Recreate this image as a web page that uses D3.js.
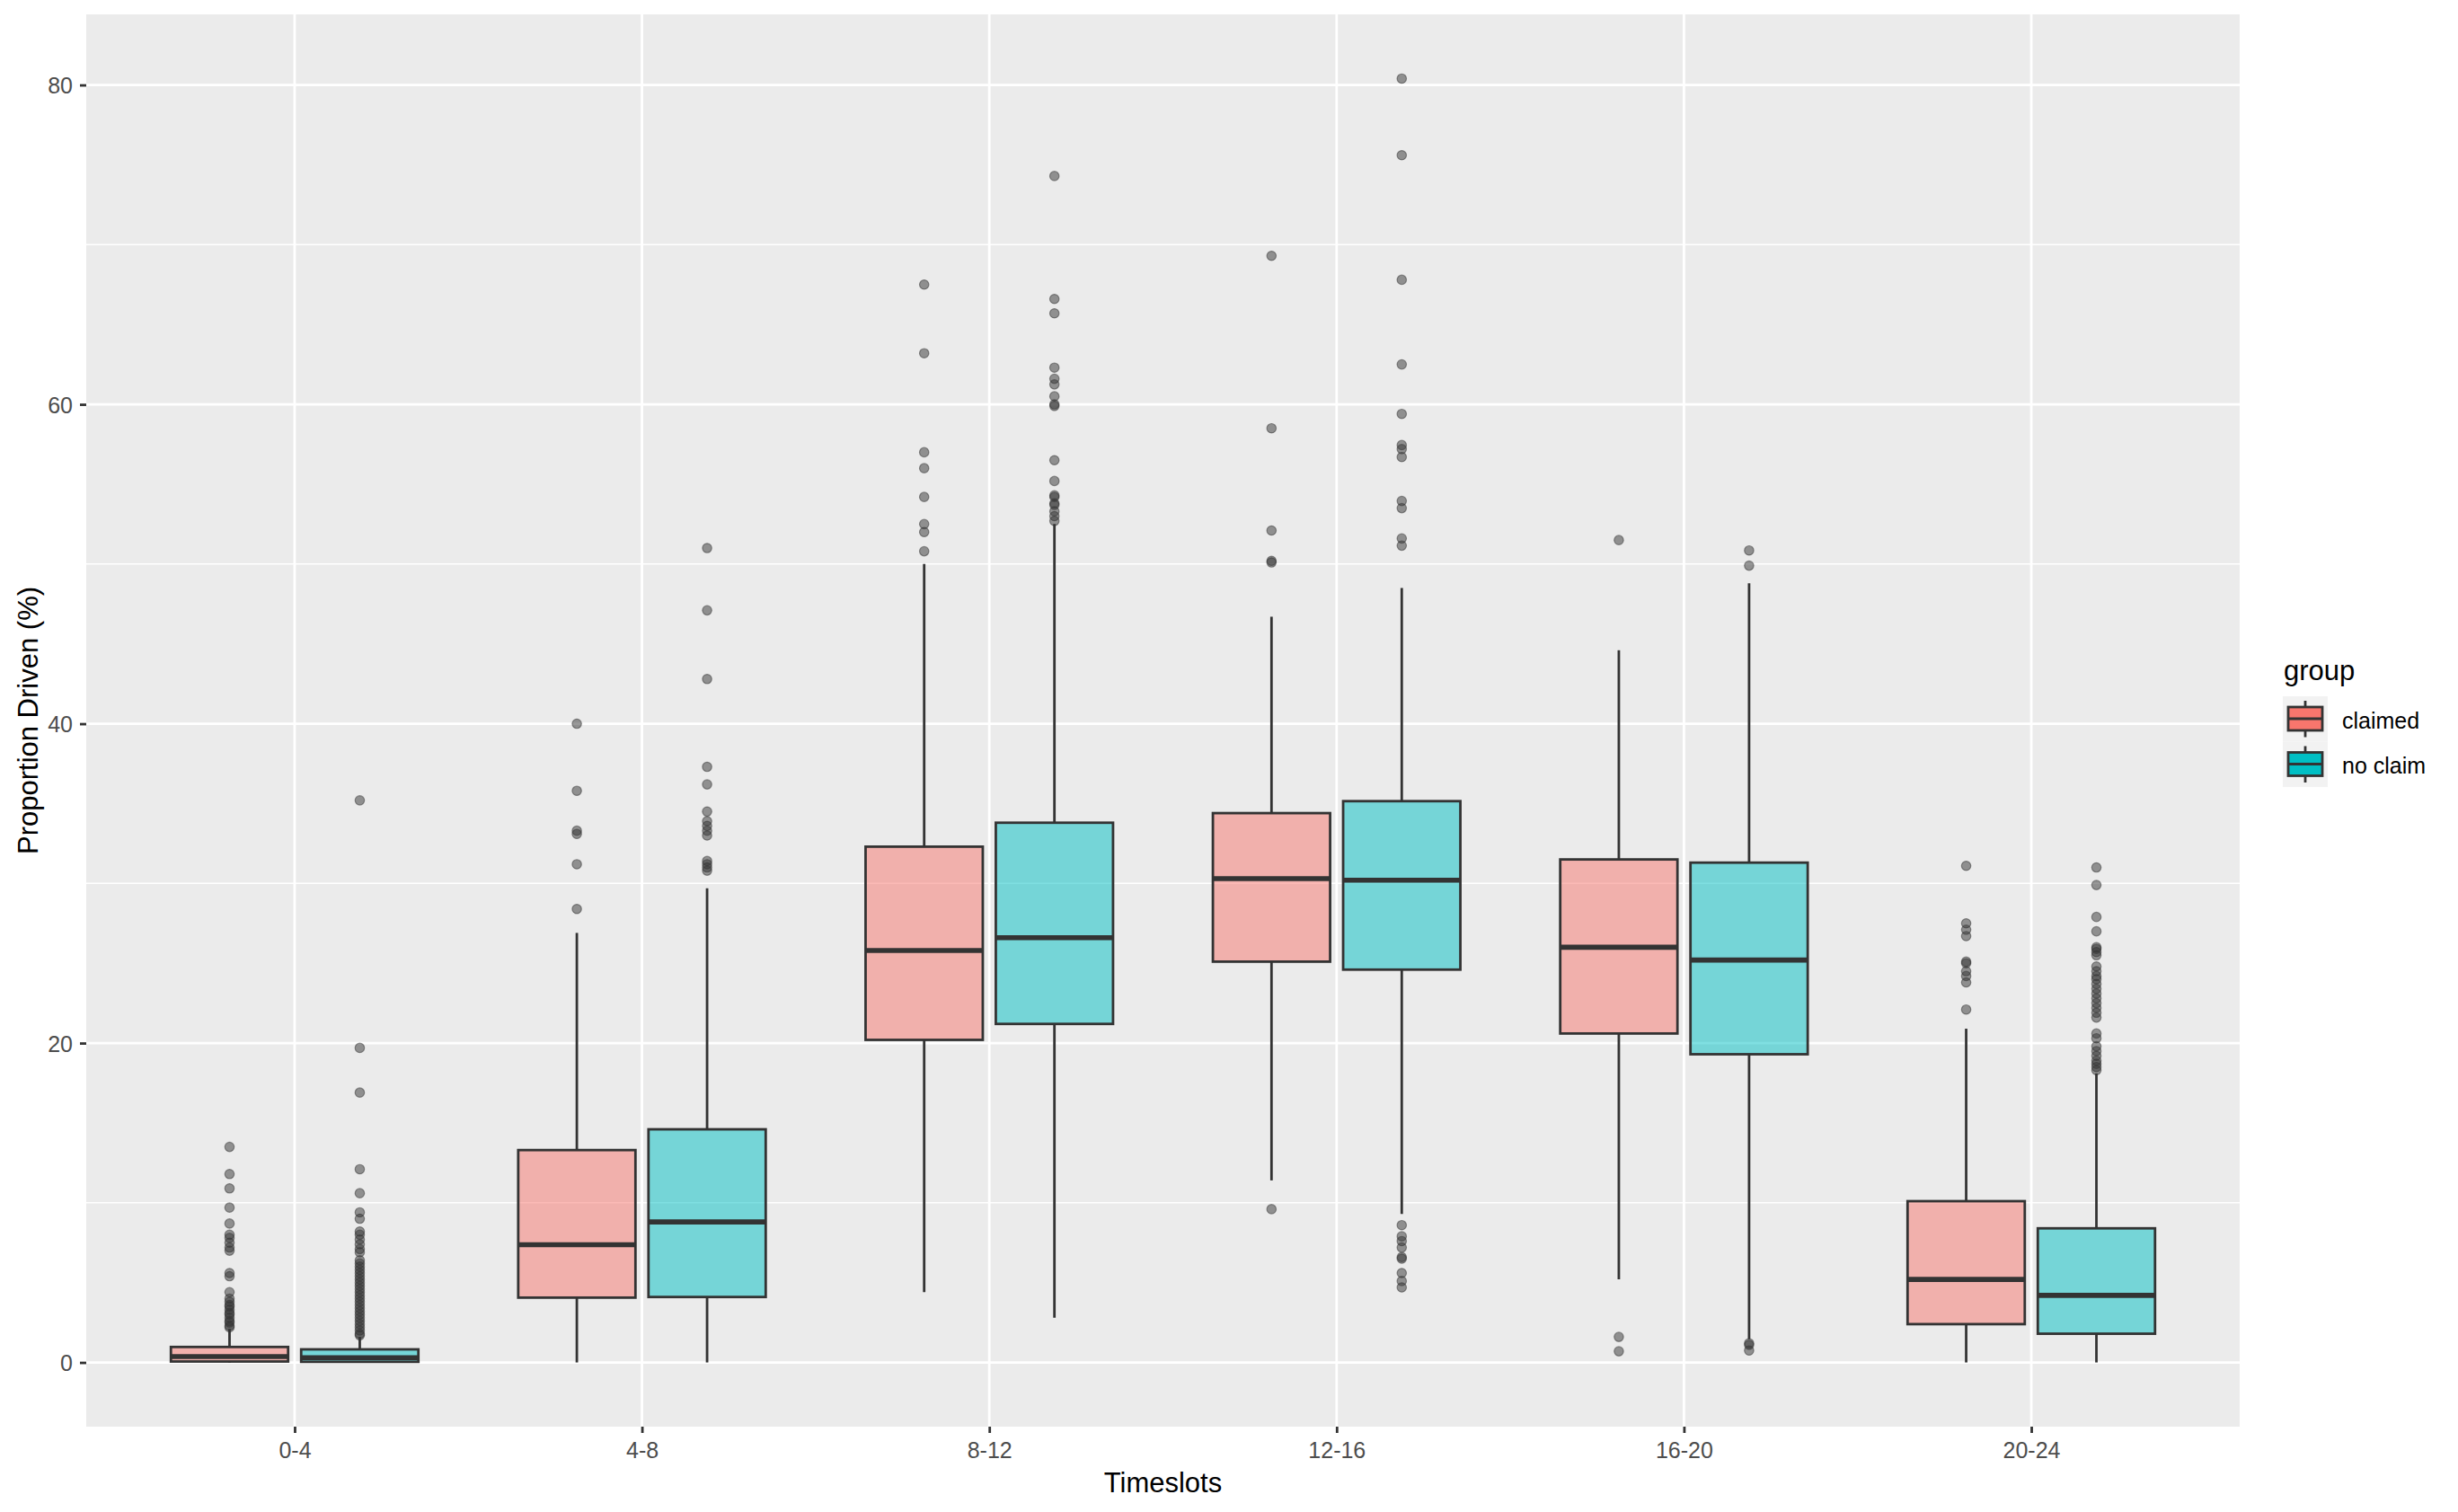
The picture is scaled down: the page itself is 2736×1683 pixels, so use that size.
<!DOCTYPE html>
<html>
<head>
<meta charset="utf-8">
<script src="https://cdn.jsdelivr.net/npm/d3@7"></script>
<style>
  html, body { margin: 0; padding: 0; background: #ffffff; }
  svg { display: block; }
  text { font-family: "Liberation Sans", Arial, sans-serif; }
</style>
</head>
<body>
<svg id="chart" width="2736" height="1683"></svg>
<script>
// ---------------- data ----------------
const categories = ["0-4", "4-8", "8-12", "12-16", "16-20", "20-24"];
const groups = ["claimed", "no claim"];
const yTicks = [0, 20, 40, 60, 80];
const yMinorTicks = [10, 30, 50, 70];

const claimedLower  = [0, 0, 4.4, 11.4, 5.2, 0];
const claimedQ1     = [0.06, 4.06, 20.2, 25.1, 20.6, 2.4];
const claimedMedian = [0.37, 7.37, 25.8, 30.3, 26.0, 5.2];
const claimedQ3     = [0.97, 13.3, 32.3, 34.4, 31.5, 10.1];
const claimedUpper  = [2.1, 26.9, 50.0, 46.7, 44.6, 20.9];

const noClaimLower  = [0, 0, 2.8, 9.3, 1.45, 0];
const noClaimQ1     = [0.04, 4.1, 21.2, 24.6, 19.3, 1.8];
const noClaimMedian = [0.3, 8.8, 26.6, 30.2, 25.2, 4.2];
const noClaimQ3     = [0.82, 14.6, 33.8, 35.15, 31.3, 8.4];
const noClaimUpper  = [1.6, 29.7, 52.5, 48.5, 48.8, 18.1];

const claimedOutliers = [
  [13.5, 11.8, 10.9, 9.7, 8.7, 8.0, 7.8, 7.5, 7.2, 7.0, 5.6, 5.4, 4.4, 4.0, 3.8, 3.6, 3.5, 3.3, 3.1, 3.0, 2.8, 2.6, 2.5, 2.3, 2.2],
  [40.0, 35.8, 33.3, 33.1, 31.2, 28.4],
  [67.5, 63.2, 57.0, 56.0, 54.2, 52.5, 52.0, 50.8],
  [69.3, 58.5, 52.1, 50.2, 50.1, 9.6],
  [51.5, 1.6, 0.7],
  [31.1, 27.5, 27.1, 26.7, 25.1, 25.0, 24.5, 24.2, 23.8, 22.1]
];
const noClaimOutliers = [
  [35.2, 19.7, 16.9, 12.1, 10.6, 9.4, 9.0, 8.2, 8.0, 7.7, 7.4, 7.1, 6.9, 6.4, 6.2, 6.0, 5.8, 5.6, 5.4, 5.2, 5.0, 4.8, 4.6, 4.4, 4.2, 4.0, 3.8, 3.6, 3.4, 3.2, 3.0, 2.8, 2.6, 2.4, 2.2, 2.0, 1.8, 1.7],
  [51.0, 47.1, 42.8, 37.3, 36.2, 34.5, 33.9, 33.6, 33.3, 33.0, 31.4, 31.2, 31.0, 30.8],
  [74.3, 66.6, 65.7, 62.3, 61.6, 61.25, 60.5, 60.0, 59.9, 56.5, 55.2, 54.3, 54.2, 53.8, 53.7, 53.3, 53.0, 52.7],
  [80.4, 75.6, 67.8, 62.5, 59.4, 57.45, 57.2, 56.7, 53.95, 53.5, 51.6, 51.15, 8.6, 7.9, 7.6, 7.2, 6.6, 6.5, 5.6, 5.1, 4.7],
  [50.85, 49.9, 1.2, 1.1, 0.75],
  [31.0, 29.9, 27.9, 27.0, 26.0, 25.9, 25.7, 25.5, 24.8, 24.5, 24.2, 24.0, 23.7, 23.4, 23.1, 22.8, 22.5, 22.2, 21.9, 21.6, 20.6, 20.3, 19.8, 19.5, 19.2, 18.9, 18.7, 18.5, 18.3]
];

const groupColors = ["#F8766D", "#00BFC4"];

// ---------------- build table ----------------
const stats = [
  {lower: claimedLower, q1: claimedQ1, med: claimedMedian, q3: claimedQ3, upper: claimedUpper, out: claimedOutliers},
  {lower: noClaimLower, q1: noClaimQ1, med: noClaimMedian, q3: noClaimQ3, upper: noClaimUpper, out: noClaimOutliers}
];
const boxes = [];
categories.forEach((c, i) => {
  groups.forEach((g, gi) => {
    const s = stats[gi];
    boxes.push({cat: c, group: g, gi: gi, lower: s.lower[i], q1: s.q1[i], med: s.med[i], q3: s.q3[i], upper: s.upper[i], out: s.out[i]});
  });
});

// ---------------- layout ----------------
const panel = {left: 96, right: 2493, top: 16, bottom: 1588};
const svg = d3.select("#chart");

const x = d3.scalePoint().domain(categories).range([panel.left, panel.right]).padding(0.6);
const step = x.step();
const dodge = d3.scaleBand().domain(groups).range([-0.375 * step, 0.375 * step]);
const boxW = dodge.bandwidth() * 0.9;

const allVals = boxes.flatMap(b => [b.lower, b.upper, ...b.out]);
const yMin = d3.min(allVals), yMax = d3.max(allVals);
const pad = (yMax - yMin) * 0.05;
const y = d3.scaleLinear().domain([yMin - pad, yMax + pad]).range([panel.bottom, panel.top]);

// panel background
svg.append("rect").attr("x", panel.left).attr("y", panel.top)
  .attr("width", panel.right - panel.left).attr("height", panel.bottom - panel.top)
  .attr("fill", "#EBEBEB");

// minor grid
svg.append("g").selectAll("line").data(yMinorTicks).join("line")
  .attr("x1", panel.left).attr("x2", panel.right)
  .attr("y1", d => y(d)).attr("y2", d => y(d))
  .attr("stroke", "#ffffff").attr("stroke-width", 1.4);
// major grid
svg.append("g").selectAll("line").data(yTicks).join("line")
  .attr("x1", panel.left).attr("x2", panel.right)
  .attr("y1", d => y(d)).attr("y2", d => y(d))
  .attr("stroke", "#ffffff").attr("stroke-width", 2.8);
svg.append("g").selectAll("line").data(categories).join("line")
  .attr("x1", d => x(d)).attr("x2", d => x(d))
  .attr("y1", panel.top).attr("y2", panel.bottom)
  .attr("stroke", "#ffffff").attr("stroke-width", 2.8);

// boxes
const bx = b => x(b.cat) + dodge(b.group) + dodge.bandwidth() / 2;
const gBox = svg.append("g");
boxes.forEach(b => {
  const cx = bx(b);
  const g = gBox.append("g");
  // outliers
  g.selectAll("circle").data(b.out).join("circle")
    .attr("cx", cx).attr("cy", d => y(d)).attr("r", 5.2)
    .attr("fill", "rgba(51,51,51,0.5)")
    .attr("stroke", "rgba(51,51,51,0.5)").attr("stroke-width", 1.2);
  // whiskers
  g.append("line").attr("x1", cx).attr("x2", cx).attr("y1", y(b.upper)).attr("y2", y(b.q3))
    .attr("stroke", "#333333").attr("stroke-width", 2.8);
  g.append("line").attr("x1", cx).attr("x2", cx).attr("y1", y(b.q1)).attr("y2", y(b.lower))
    .attr("stroke", "#333333").attr("stroke-width", 2.8);
  // box
  g.append("rect").attr("x", cx - boxW / 2).attr("y", y(b.q3))
    .attr("width", boxW).attr("height", y(b.q1) - y(b.q3))
    .attr("fill", groupColors[b.gi]).attr("fill-opacity", 0.5)
    .attr("stroke", "#333333").attr("stroke-width", 2.8);
  // median
  g.append("line").attr("x1", cx - boxW / 2).attr("x2", cx + boxW / 2)
    .attr("y1", y(b.med)).attr("y2", y(b.med))
    .attr("stroke", "#333333").attr("stroke-width", 5.6);
});

// axes
const yAxis = d3.axisLeft(y).tickValues(yTicks).tickSize(7).tickPadding(8);
const gy = svg.append("g").attr("transform", `translate(${panel.left},0)`).call(yAxis);
gy.select(".domain").remove();
gy.selectAll(".tick line").attr("stroke", "#333333").attr("stroke-width", 2.8);
gy.selectAll(".tick text").attr("fill", "#4D4D4D").style("font-size", "25px")
  .style("font-family", "'Liberation Sans', Arial, sans-serif").attr("dy", "0.36em");

const xAxis = d3.axisBottom(x).tickSize(7).tickPadding(10);
const gx = svg.append("g").attr("transform", `translate(0,${panel.bottom})`).call(xAxis);
gx.select(".domain").remove();
gx.selectAll(".tick line").attr("stroke", "#333333").attr("stroke-width", 2.8);
gx.selectAll(".tick text").attr("fill", "#4D4D4D").style("font-size", "25px")
  .style("font-family", "'Liberation Sans', Arial, sans-serif");

// axis titles
svg.append("text").attr("x", (panel.left + panel.right) / 2).attr("y", 1661)
  .attr("text-anchor", "middle").attr("fill", "#000").style("font-size", "31px").text("Timeslots");
svg.append("text").attr("transform", `translate(42,${(panel.top + panel.bottom) / 2}) rotate(-90)`)
  .attr("text-anchor", "middle").attr("fill", "#000").style("font-size", "31px").text("Proportion Driven (%)");

// legend
const lg = svg.append("g").attr("transform", "translate(2541,0)");
lg.append("text").attr("x", 1).attr("y", 757).attr("fill", "#000").style("font-size", "31px").text("group");
groups.forEach((g, i) => {
  const top = 775 + i * 50.5;
  lg.append("rect").attr("x", 0).attr("y", top).attr("width", 50).attr("height", 50.5).attr("fill", "#F2F2F2");
  lg.append("line").attr("x1", 25).attr("x2", 25).attr("y1", top + 5).attr("y2", top + 45.5)
    .attr("stroke", "#333333").attr("stroke-width", 2.8);
  lg.append("rect").attr("x", 6).attr("y", top + 12).attr("width", 38).attr("height", 26)
    .attr("fill", groupColors[i]).attr("stroke", "#333333").attr("stroke-width", 2.8);
  lg.append("line").attr("x1", 6).attr("x2", 44).attr("y1", top + 25).attr("y2", top + 25)
    .attr("stroke", "#333333").attr("stroke-width", 2.8);
  lg.append("text").attr("x", 66).attr("y", top + 35.5).attr("fill", "#000").style("font-size", "25px").text(g);
});
</script>
</body>
</html>
